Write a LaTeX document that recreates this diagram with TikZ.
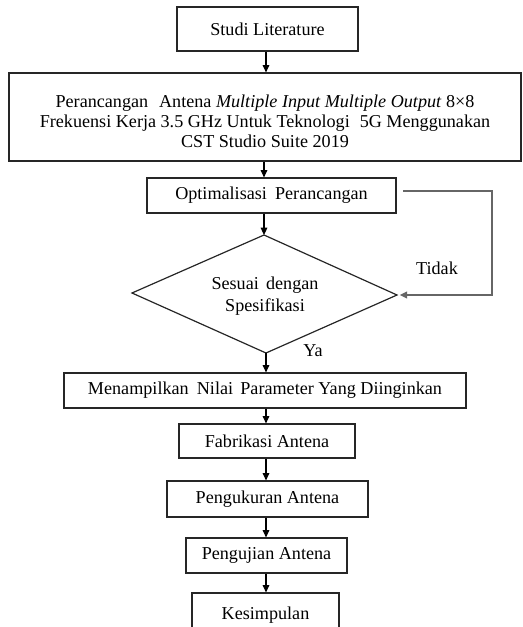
\documentclass[tikz,border=0pt]{standalone}
\usepackage{fontspec}
\setmainfont{Liberation Serif}
\usetikzlibrary{arrows.meta}
\begin{document}
\begin{tikzpicture}[x=0.75pt,y=-0.75pt,
  font=\fontsize{13.6}{15}\selectfont,
  box/.style={draw=black!85,line width=0.9pt,rectangle,inner sep=0pt,align=center},
  sz/.style 2 args={minimum width={#1*0.75pt},minimum height={#2*0.75pt}},
  arr/.style={draw=black,line width=0.8pt,-{Triangle[length=5.5pt,width=5pt]}},
  back/.style={draw=black!60,line width=1pt,-{Triangle[length=5.5pt,width=5pt]}},
  lbl/.style={inner sep=0pt}]
\useasboundingbox (0,0) rectangle (522,627);
\clip (0,0) rectangle (522,627);
% boxes
\node[box,sz={181}{44}] (studi) at (267.5,29) {Studi Literature};
\node[box,sz={512}{88}] (big) at (265,117)
  {\rule{0pt}{16pt}Perancangan\hspace{0.35em} Antena \textit{Multiple Input Multiple Output} 8×8\\
   Frekuensi Kerja 3.5 GHz Untuk Teknologi\hspace{0.3em} 5G Menggunakan\\
   CST Studio Suite 2019};
\node[box,sz={249}{35}] (opt) at (271.5,195.5) {Optimalisasi\hspace{0.2em} Perancangan};
% diamond
\coordinate (dt) at (264,235);
\coordinate (db) at (266,353);
\coordinate (dl) at (132,293);
\coordinate (dr) at (397,295);
\draw[black!85,line width=0.9pt] (dt) -- (dr) -- (db) -- (dl) -- cycle;
\node[lbl,align=center,font=\fontsize{13.6}{16}\selectfont] (dtext) at (265,296) {Sesuai\hspace{0.15em} dengan\\Spesifikasi};
\node[box,sz={402}{35}] (men) at (265,390.5) {Menampilkan\hspace{0.2em} Nilai\hspace{0.15em} Parameter Yang Diinginkan};
\node[box,sz={176}{34}] (fab) at (267,441) {Fabrikasi Antena};
\node[box,sz={201}{36}] (peng) at (267.5,499) {Pengukuran Antena};
\node[box,sz={161}{35}] (uji) at (266.5,555.5) {Pengujian Antena};
\node[box,sz={147}{44}] (kes) at (265.5,615) {Kesimpulan};
% labels
\node[lbl] (tidak) at (437,268) {Tidak};
\node[lbl] (ya) at (313,351) {Ya};
% connectors
\coordinate (ax) at (266,0);
\draw[arr] (studi.south -| ax) -- (big.north -| ax);
\draw[arr] (big.south -| dt) -- (opt.north -| dt);
\draw[arr] (opt.south -| dt) -- (dt);
\draw[arr] (db) -- (men.north -| db);
\draw[arr] (men.south -| ax) -- (fab.north -| ax);
\draw[arr] (fab.south -| ax) -- (peng.north -| ax);
\draw[arr] (peng.south -| ax) -- (uji.north -| ax);
\draw[arr] (uji.south -| ax) -- (kes.north -| ax);
\coordinate (fb) at (403,191);
\coordinate (fc) at (492,191);
\draw[back] (fb) -- (fc) |- ([xshift=2]dr);
\end{tikzpicture}
\end{document}
